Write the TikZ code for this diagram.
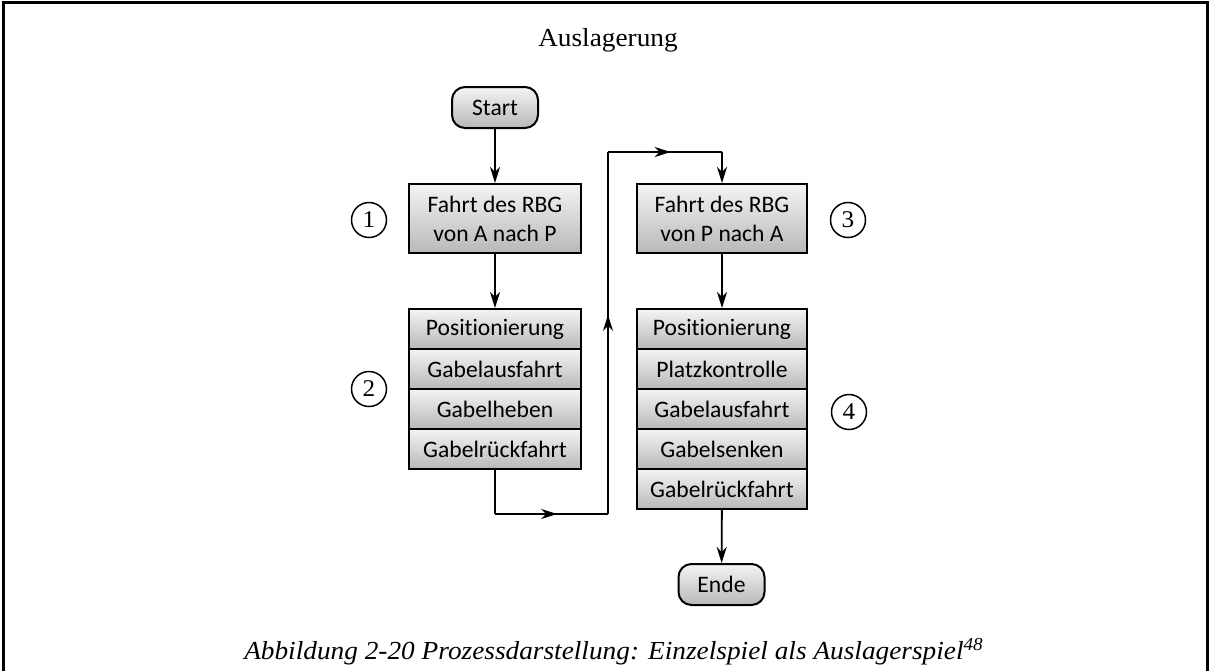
\documentclass[tikz,border=0pt]{standalone}
\usepackage{fontspec}
\setmainfont{Carlito}[Ligatures=NoCommon]
\newfontfamily\serifcap{Liberation Serif}[FakeStretch=1.05]
\usetikzlibrary{arrows.meta,decorations.markings}

\definecolor{boxtop}{RGB}{244,244,244}
\definecolor{boxbot}{RGB}{184,184,184}

\tikzset{
  box/.style={draw=black, line width=1pt, top color=boxtop, bottom color=boxbot,
    minimum width=86pt, inner sep=0pt, align=center, font=\fontsize{11.8}{14.5}\selectfont},
  twoline/.style={box, minimum height=34.5pt},
  row/.style={box, minimum height=20pt},
  terminal/.style={box, rounded corners=6.5pt, minimum width=43pt, minimum height=20.5pt},
  marker/.style={draw=black, line width=0.75pt, circle, minimum size=17.5pt, inner sep=0pt,
    font=\serifcap\fontsize{12}{13}\selectfont},
  conn/.style={draw=black, line width=0.9pt},
  arr/.style={conn, -{Stealth[length=8pt,width=5pt,inset=2.5pt]}},
  midarrow/.style={conn, postaction={decorate}, decoration={markings,
    mark=at position 0.55 with {\arrow{Stealth[length=8pt,width=5pt,inset=2.5pt]}}}}
}

\begin{document}
\begin{tikzpicture}[x=0.5pt, y=-0.5pt]
  \useasboundingbox (0,0) rectangle (1210,671);

  % open frame around the figure
  \draw[line width=1.5pt] (3,671) -- (3,2.5) -- (1207,2.5) -- (1207,671);

  % heading
  \node[font=\serifcap\fontsize{13}{15}\selectfont] (title) at (608,40) {Auslagerung};

  % left column
  \node[terminal] (start) at (495,107.5) {Start};
  \node[twoline] (b1) at (495,218.5) {Fahrt des RBG\\von A nach P};
  \node[row] (s2a) at (495,329) {Positionierung};
  \node[row] (s2b) at (495,369) {Gabelausfahrt};
  \node[row] (s2c) at (495,409) {Gabelheben};
  \node[row] (s2d) at (495,449) {Gabelrückfahrt};

  % right column
  \node[twoline, minimum width=85pt] (b3) at (722,218.5) {Fahrt des RBG\\von P nach A};
  \node[row, minimum width=85pt] (s4a) at (722,329) {Positionierung};
  \node[row, minimum width=85pt] (s4b) at (722,369) {Platzkontrolle};
  \node[row, minimum width=85pt] (s4c) at (722,409) {Gabelausfahrt};
  \node[row, minimum width=85pt] (s4d) at (722,449) {Gabelsenken};
  \node[row, minimum width=85pt] (s4e) at (722,489) {Gabelrückfahrt};
  \node[terminal] (ende) at (721.5,584.5) {Ende};

  % step numbers
  \node[marker] (m1) at (369,220) {1};
  \node[marker] (m2) at (369,389) {2};
  \node[marker] (m3) at (848,220) {3};
  \node[marker] (m4) at (849,412) {4};

  % flow
  \draw[arr] (start) -- (b1);
  \draw[arr] (b1) -- (s2a);
  \draw[arr] (b3) -- (s4a);
  \draw[arr] (s4e) -- (ende);

  \coordinate (c1) at (495,514);
  \coordinate (c2) at (608,514);
  \coordinate (c3) at (608,152);
  \coordinate (c4) at (722,152);
  \draw[conn] (s2d.south) -- (c1);
  \draw[midarrow] (c1) -- (c2);
  \draw[midarrow] (c2) -- (c3);
  \draw[midarrow] (c3) -- (c4);
  \draw[arr] (c4) -- (b3.north);

  % caption
  \node[font=\serifcap\itshape\fontsize{13}{15}\selectfont] (cap) at (614,652)
    {Abbildung 2-20 Prozessdarstellung: Einzelspiel als Auslagerspiel\textsuperscript{48}};
\end{tikzpicture}
\end{document}
